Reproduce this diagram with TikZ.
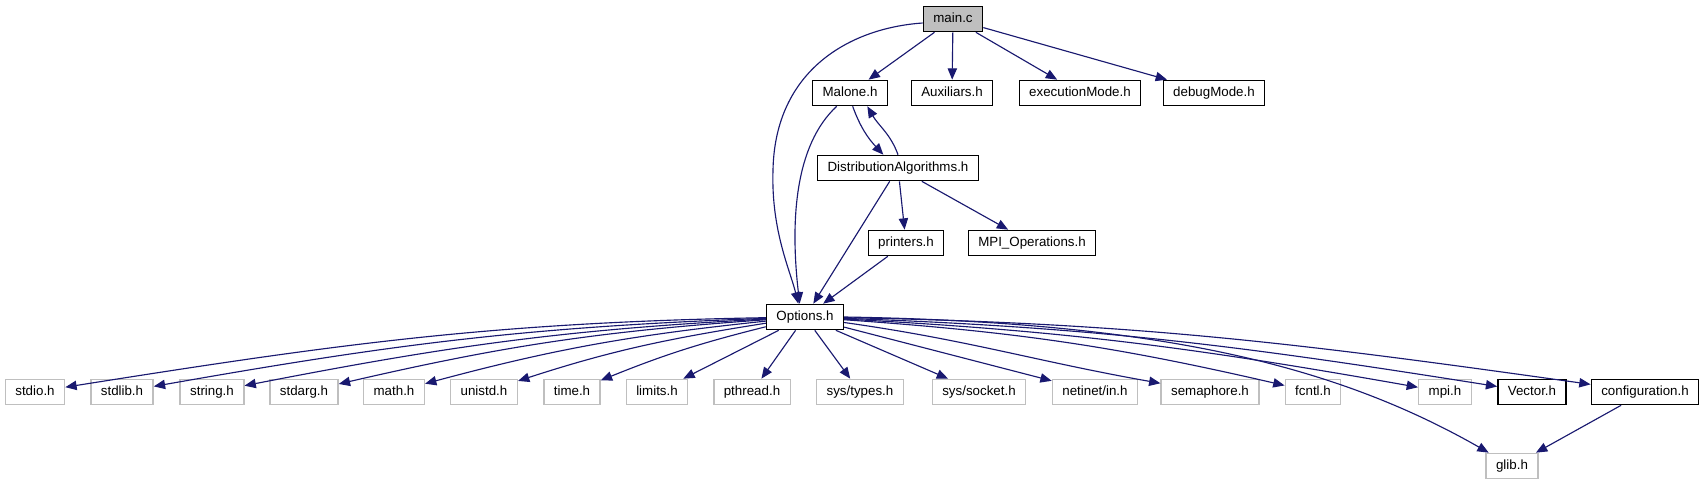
\documentclass[tikz,border=0pt]{standalone}
\usepackage{fontspec}
\setmainfont{Liberation Sans}
\usepackage{tikz}
\usetikzlibrary{arrows.meta}

\definecolor{edgeblue}{HTML}{191970}
\definecolor{extgray}{HTML}{BFBFBF}

\begin{document}
\begin{tikzpicture}[
  x=0.75pt,
  y=-0.75pt,
  every node/.style={font=\fontsize{10}{12}\selectfont},
  file/.style={
    draw=black,
    line width=1pt,
    fill=white,
    inner xsep=7.5pt,
    inner ysep=0pt,
    minimum height=19pt,
    text height=7.5pt,
    text depth=2pt
  },
  extfile/.style={file, draw=extgray},
  root/.style={file, fill=extgray},
  arrow/.style={-{Triangle[length=8.5pt,width=7pt]}, draw=edgeblue, line width=0.85pt}
]
\useasboundingbox[fill=white] (0,0) rectangle (1704,485);

% sources
\node[root] (main) at (953,19) {main.c};
\node[file] (malone) at (850,93) {Malone.h};
\node[file] (aux) at (952,93) {Auxiliars.h};
\node[file] (execmode) at (1080,93) {executionMode.h};
\node[file] (debugmode) at (1214,93) {debugMode.h};
\node[file] (distalg) at (898,168) {DistributionAlgorithms.h};
\node[file] (printers) at (906,243) {printers.h};
\node[file] (mpiops) at (1032,243) {MPI\_Operations.h};
\node[file] (options) at (805,317) {Options.h};

% headers
\node[extfile] (stdio) at (35,392) {stdio.h};
\node[extfile] (stdlib) at (122,392) {stdlib.h};
\node[extfile] (string) at (212,392) {string.h};
\node[extfile] (stdarg) at (304,392) {stdarg.h};
\node[extfile] (math) at (394,392) {math.h};
\node[extfile] (unistd) at (484,392) {unistd.h};
\node[extfile] (time) at (572,392) {time.h};
\node[extfile] (limits) at (657,392) {limits.h};
\node[extfile] (pthread) at (752,392) {pthread.h};
\node[extfile] (systypes) at (860,392) {sys/types.h};
\node[extfile] (syssocket) at (979,392) {sys/socket.h};
\node[extfile] (netinet) at (1095,392) {netinet/in.h};
\node[extfile] (semaphore) at (1210,392) {semaphore.h};
\node[extfile] (fcntl) at (1313,392) {fcntl.h};
\node[extfile] (mpi) at (1445,392) {mpi.h};
\node[file] (vector) at (1532,392) {Vector.h};
\node[file] (config) at (1645,392) {configuration.h};
\node[extfile] (glib) at (1512,466) {glib.h};

% main.c
\draw[arrow] (main) -- (malone);
\draw[arrow] (main) -- (aux);
\draw[arrow] (main) -- (execmode);
\draw[arrow] (main) -- (debugmode);
\draw[arrow] ([yshift=-3pt]main.west) .. controls (850,28) and (775,70) .. (773,170)
  .. controls (771,230) and (790,270) .. ([xshift=-5pt]options.north);

% Malone.h / DistributionAlgorithms.h
\draw[arrow] ([xshift=-10pt]malone.south) .. controls (795,145) and (790,220) .. ([xshift=-4pt]options.north);
\draw[arrow] ([xshift=2pt]malone.south) to[out=-70, in=133] ([xshift=-11pt]distalg.north);
\draw[arrow] (distalg.north) to[out=110, in=-60] ([xshift=13pt]malone.south);
\draw[arrow] (distalg) -- (options);
\draw[arrow] (distalg) -- (printers);
\draw[arrow] (distalg) -- (mpiops);
\draw[arrow] (printers) -- (options);

% Options.h
\draw[arrow] (options) to[out=181, in=9] (stdio);
\draw[arrow] (options) to[out=182, in=10] (stdlib);
\draw[arrow] (options) to[out=183, in=11] (string);
\draw[arrow] (options) to[out=184, in=13] (stdarg);
\draw[arrow] (options) to[out=186, in=15] (math);
\draw[arrow] (options) to[out=189, in=18] (unistd);
\draw[arrow] (options) to[out=194, in=22] (time);
\draw[arrow] (options) -- (limits);
\draw[arrow] (options) -- (pthread);
\draw[arrow] (options) -- (systypes);
\draw[arrow] (options) -- (syssocket);
\draw[arrow] (options) -- (netinet);
\draw[arrow] (options) to[out=-8, in=170] (semaphore);
\draw[arrow] (options) to[out=-4, in=167] (fcntl);
\draw[arrow] (options) to[out=-3, in=170] (mpi);
\draw[arrow] (options) to[out=-2, in=171] (vector);
\draw[arrow] (options) to[out=-1, in=172] (config);
\draw[arrow] (options.east) .. controls (1150,322) and (1330,362) .. (glib);
\draw[arrow] (config) -- (glib);
\end{tikzpicture}
\end{document}
